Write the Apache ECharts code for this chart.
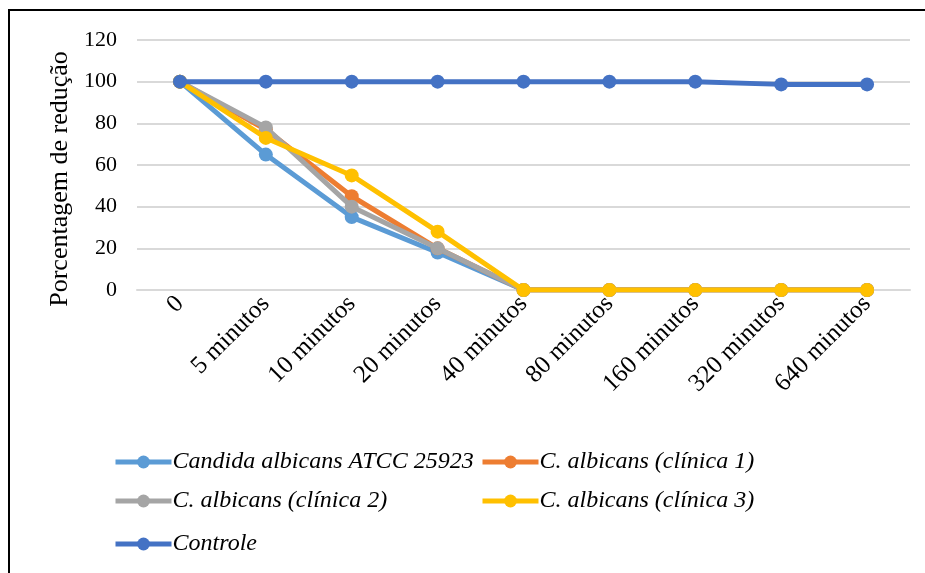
<!DOCTYPE html>
<html>
<head>
<meta charset="utf-8">
<script src="https://cdn.jsdelivr.net/npm/echarts@6/dist/echarts.min.js"></script>
<style>
  html, body { margin: 0; padding: 0; background: #fff; }
  #chart { width: 925px; height: 573px; }
</style>
</head>
<body>
<div id="chart"></div>
<script>
// Time points of the assay
const categories = ['0', '5 minutos', '10 minutos', '20 minutos', '40 minutos', '80 minutos', '160 minutos', '320 minutos', '640 minutos'];

// Percentage reduction per strain
const atcc     = [100, 65, 35, 18, 0, 0, 0, 0, 0];
const clinica1 = [100, 77, 45, 20, 0, 0, 0, 0, 0];
const clinica2 = [100, 78, 40, 20, 0, 0, 0, 0, 0];
const clinica3 = [100, 73, 55, 28, 0, 0, 0, 0, 0];
const controle = [100, 100, 100, 100, 100, 100, 100, 98.7, 98.7];

const seriesNames = [
  'Candida albicans ATCC 25923',
  'C. albicans (clínica 1)',
  'C. albicans (clínica 2)',
  'C. albicans (clínica 3)',
  'Controle'
];
const seriesData = [atcc, clinica1, clinica2, clinica3, controle];
const colors = ['#5B9BD5', '#ED7D31', '#A5A5A5', '#FFC000', '#4472C4'];

const yTicks = [0, 20, 40, 60, 80, 100, 120];

const serif = '"Liberation Serif", "DejaVu Serif", serif';

const chart = echarts.init(document.getElementById('chart'));

// One legend per entry so the two-column layout lines up
const legendPos = [
  { left: 113, top: 450 },
  { left: 480, top: 450 },
  { left: 113, top: 489 },
  { left: 480, top: 489 },
  { left: 113, top: 532 }
];
const legends = seriesNames.map((name, i) => ({
  data: [name],
  left: legendPos[i].left,
  top: legendPos[i].top,
  itemWidth: 56,
  itemHeight: 16,
  itemGap: 0,
  padding: 0,
  lineStyle: { width: 5 },
  textStyle: { fontFamily: serif, fontStyle: 'italic', fontSize: 24, color: '#000', padding: [0, 0, 0, -4] }
}));

chart.setOption({
  animation: false,
  color: colors,
  graphic: [{
    type: 'rect',
    shape: { x: 9, y: 10, width: 940, height: 600 },
    style: { fill: 'none', stroke: '#000', lineWidth: 2 },
    silent: true,
    z: 100
  }],
  legend: legends,
  grid: { left: 137, right: 15, top: 40, bottom: 283, containLabel: false },
  xAxis: {
    type: 'category',
    data: categories,
    boundaryGap: true,
    axisLine: { show: true, lineStyle: { color: '#D9D9D9', width: 2 } },
    axisTick: { show: false },
    axisLabel: {
      rotate: 45,
      interval: 0,
      margin: 10,
      fontFamily: serif,
      fontSize: 25,
      color: '#000'
    }
  },
  yAxis: {
    type: 'value',
    min: 0,
    max: 120,
    interval: 20,
    name: 'Porcentagem de redução',
    nameLocation: 'middle',
    nameRotate: 90,
    nameGap: 63,
    nameTextStyle: { fontFamily: serif, fontSize: 26, color: '#000', padding: [0, 28, 0, 0] },
    axisLine: { show: false },
    axisTick: { show: false },
    axisLabel: {
      margin: 20,
      fontFamily: serif,
      fontSize: 22,
      color: '#000',
      formatter: v => (yTicks.includes(v) ? String(v) : '')
    },
    splitLine: { lineStyle: { color: '#D9D9D9', width: 2 } }
  },
  series: seriesNames.map((name, i) => ({
    name: name,
    type: 'line',
    data: seriesData[i],
    symbol: 'circle',
    symbolSize: 14,
    lineStyle: { width: 5, color: colors[i] },
    itemStyle: { color: colors[i] },
    z: 2 + i
  }))
});
</script>
</body>
</html>
